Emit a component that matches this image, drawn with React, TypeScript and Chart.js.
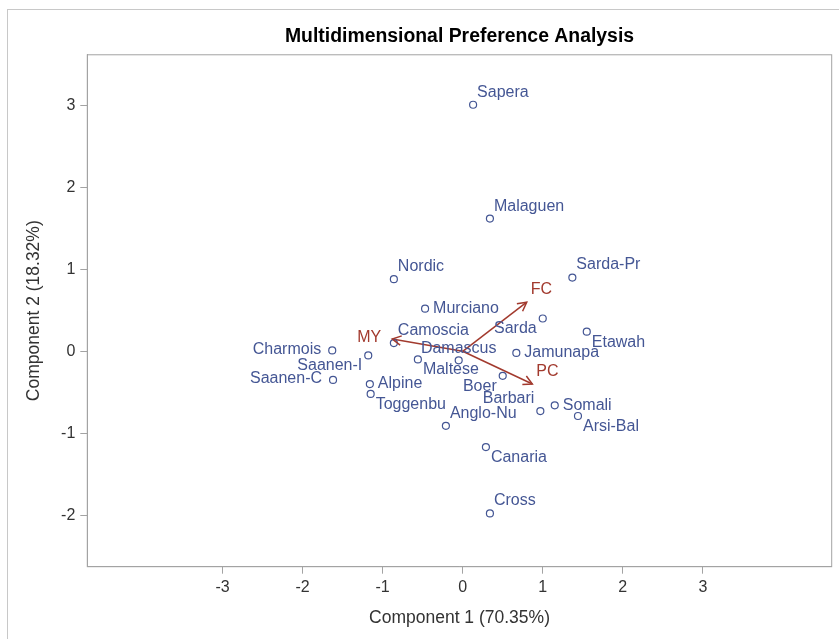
import { useEffect, useRef } from "react";
import { Chart, registerables } from "chart.js";

Chart.register(...registerables);

// ---- data ----
const breeds = [
  "Sapera", "Malaguen", "Nordic", "Sarda-Pr", "Murciano", "Sarda", "Etawah",
  "Camoscia", "Charmois", "Saanen-I", "Saanen-C", "Alpine", "Toggenbu",
  "Maltese", "Damascus", "Jamunapa", "Boer", "Barbari", "Somali", "Arsi-Bal",
  "Anglo-Nu", "Canaria", "Cross",
];
const comp1 = [
  0.13, 0.34, -0.86, 1.37, -0.47, 1.0, 1.55,
  -0.86, -1.63, -1.18, -1.62, -1.16, -1.15,
  -0.56, -0.05, 0.67, 0.5, 0.97, 1.15, 1.44,
  -0.21, 0.29, 0.34,
];
const comp2 = [
  3.01, 1.62, 0.88, 0.9, 0.52, 0.4, 0.24,
  0.1, 0.01, -0.05, -0.35, -0.4, -0.52,
  -0.1, -0.11, -0.02, -0.3, -0.73, -0.66, -0.79,
  -0.91, -1.17, -1.98,
];
const vectorNames = ["MY", "FC", "PC"];
const vectorX = [-0.88, 0.8, 0.87];
const vectorY = [0.15, 0.6, -0.4];

const xTicks = [-3, -2, -1, 0, 1, 2, 3];
const yTicks = [-2, -1, 0, 1, 2, 3];
const xMin = -4.69;
const xMax = 4.61;
const yMin = -2.63;
const yMax = 3.62;

const titleText = "Multidimensional Preference Analysis";
const xTitle = "Component 1 (70.35%)";
const yTitle = "Component 2 (18.32%)";

// ---- label placement (style) ----
const labelAnchor = [
  "NE", "NE", "NE", "NE", "E", "SW", "SE",
  "NE", "W", "SW", "W", "E", "SE",
  "SE", "N", "E", "SW", "NW", "E", "SE",
  "NE", "SE", "NE",
];
const vectorAnchor = ["W", "NE", "NE"];

const FONT = "'Liberation Sans', Arial, Helvetica, sans-serif";
const BLUE = "#445694";
const RED = "#A23A2E";
const AXIS = "#a3a3a3";
const TEXT = "#333333";

function placeLabel(ctx: CanvasRenderingContext2D, text: string, cx: number, cy: number, anchor: string) {
  let x = cx;
  let y = cy;
  let align: CanvasTextAlign = "left";
  switch (anchor) {
    case "NE": x = cx + 4; y = cy - 12.5; align = "left"; break;
    case "E": x = cx + 8; y = cy; align = "left"; break;
    case "SE": x = cx + 5; y = cy + 10.5; align = "left"; break;
    case "S": x = cx; y = cy + 11; align = "center"; break;
    case "SW": x = cx - 6; y = cy + 10.5; align = "right"; break;
    case "W": x = cx - 11; y = cy - 1; align = "right"; break;
    case "NW": x = cx - 6; y = cy - 12.5; align = "right"; break;
    case "N": x = cx; y = cy - 12; align = "center"; break;
  }
  ctx.textAlign = align;
  ctx.fillText(text, x, y);
}

const framePlugin = {
  id: "frame",
  beforeDatasetsDraw(chart: any) {
    const { ctx, chartArea } = chart;
    ctx.save();
    ctx.strokeStyle = AXIS;
    ctx.lineWidth = 1;
    ctx.strokeRect(chartArea.left, chartArea.top, chartArea.right - chartArea.left, chartArea.bottom - chartArea.top);
    ctx.restore();
  },
};

const decorPlugin = {
  id: "decor",
  afterDatasetsDraw(chart: any) {
    const { ctx } = chart;
    ctx.save();
    ctx.font = `16px ${FONT}`;
    ctx.textBaseline = "middle";
    const meta0 = chart.getDatasetMeta(0);
    ctx.fillStyle = BLUE;
    meta0.data.forEach((el: any, i: number) => {
      placeLabel(ctx, breeds[i], el.x, el.y, labelAnchor[i]);
    });
    vectorNames.forEach((name, k) => {
      const meta = chart.getDatasetMeta(k + 1);
      const p0 = meta.data[0];
      const p1 = meta.data[1];
      const ang = Math.atan2(p1.y - p0.y, p1.x - p0.x);
      const L = 10;
      const a = (28 * Math.PI) / 180;
      ctx.strokeStyle = RED;
      ctx.lineWidth = 1.5;
      ctx.beginPath();
      ctx.moveTo(p1.x - L * Math.cos(ang - a), p1.y - L * Math.sin(ang - a));
      ctx.lineTo(p1.x, p1.y);
      ctx.lineTo(p1.x - L * Math.cos(ang + a), p1.y - L * Math.sin(ang + a));
      ctx.stroke();
      ctx.fillStyle = RED;
      placeLabel(ctx, name, p1.x, p1.y, vectorAnchor[k]);
    });
    ctx.restore();
  },
};

export default function App() {
  const ref = useRef<HTMLCanvasElement | null>(null);

  useEffect(() => {
    if (!ref.current) return;
    Chart.defaults.font.family = FONT;
    const datasets: any[] = [
      {
        label: "Breeds",
        data: breeds.map((_, i) => ({ x: comp1[i], y: comp2[i] })),
        pointRadius: 3.5,
        pointBorderWidth: 1.2,
        pointBorderColor: BLUE,
        pointBackgroundColor: "rgba(255,255,255,0)",
        showLine: false,
      },
      ...vectorNames.map((name, k) => ({
        label: name,
        data: [
          { x: 0, y: 0 },
          { x: vectorX[k], y: vectorY[k] },
        ],
        showLine: true,
        borderColor: RED,
        borderWidth: 1.5,
        pointRadius: 0,
      })),
    ];

    const chart = new Chart(ref.current, {
      type: "scatter",
      data: { datasets },
      options: {
        animation: false,
        responsive: false,
        maintainAspectRatio: false,
        layout: { padding: { left: 0, right: 7.3, top: 0, bottom: 0 } },
        plugins: {
          legend: { display: false },
          tooltip: { enabled: false },
          title: {
            display: true,
            text: titleText,
            fullSize: false,
            color: "#000000",
            font: { family: FONT, size: 19.4, weight: "bold" },
            padding: { top: 25, bottom: 6.5 },
          },
        },
        scales: {
          x: {
            type: "linear",
            min: xMin,
            max: xMax,
            afterBuildTicks: (s: any) => {
              s.ticks = xTicks.map((v) => ({ value: v }));
            },
            afterFit: (s: any) => {
              s.height = 72.3;
            },
            grid: { drawOnChartArea: false, drawTicks: true, tickLength: 7, color: AXIS },
            border: { display: true, color: AXIS },
            ticks: { color: TEXT, font: { family: FONT, size: 16 }, padding: 4, callback: (v: any) => String(v) },
            title: {
              display: true,
              text: xTitle,
              color: TEXT,
              font: { family: FONT, size: 17.5 },
              padding: { top: 0, bottom: 10 },
            },
          },
          y: {
            type: "linear",
            min: yMin,
            max: yMax,
            afterBuildTicks: (s: any) => {
              s.ticks = yTicks.map((v) => ({ value: v }));
            },
            afterFit: (s: any) => {
              s.width = 87.3;
            },
            grid: { drawOnChartArea: false, drawTicks: true, tickLength: 7, color: AXIS },
            border: { display: true, color: AXIS },
            ticks: { color: TEXT, font: { family: FONT, size: 16 }, padding: 5, callback: (v: any) => String(v) },
            title: {
              display: true,
              text: yTitle,
              color: TEXT,
              font: { family: FONT, size: 17.5 },
              padding: { top: 24, bottom: 0 },
            },
          },
        },
      },
      plugins: [framePlugin, decorPlugin],
    });
    return () => chart.destroy();
  }, []);

  return (
    <div style={{ position: "fixed", left: 0, top: 0, width: 839, height: 639, background: "#ffffff", overflow: "hidden" }}>
      <div
        style={{
          position: "absolute",
          left: 7,
          top: 9,
          width: 840,
          height: 640,
          border: "1px solid #c8c8c8",
          boxSizing: "border-box",
        }}
      />
      <canvas ref={ref} width={839} height={639} style={{ position: "absolute", left: 0, top: 0, width: 839, height: 639 }} />
    </div>
  );
}
